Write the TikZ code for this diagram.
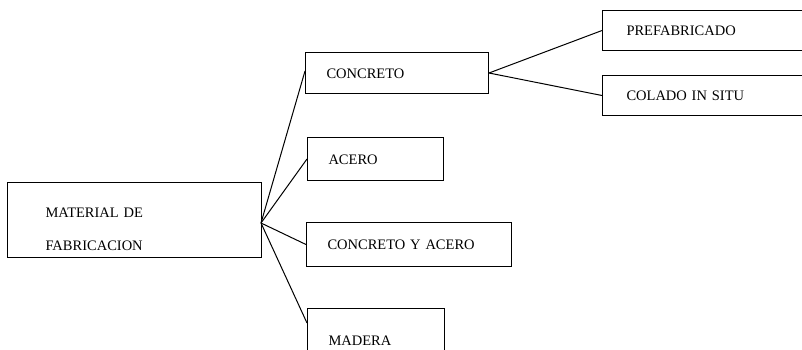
\documentclass[tikz,border=0pt]{standalone}
\usepackage{fontspec}
\setmainfont{Liberation Serif}
\begin{document}
\begin{tikzpicture}[x=1pt,y=-1pt,
  every node/.style={font=\fontsize{14.5}{33}\selectfont},
  box/.style={draw, line width=1pt, anchor=north west, inner ysep=0pt,
    inner xsep=21pt, align=left, text height=10pt, text depth=0pt},
  link/.style={line width=1pt}]
\useasboundingbox (0,0) rectangle (802,349);
\clip (0,0) rectangle (802,349);
% boxes
\node[box, inner xsep=38pt, text width=178pt, text height=, text depth=] (mat) at (7,182)
  {\rule{0pt}{35pt}MATERIAL DE\\FABRICACION\rule[-7pt]{0pt}{7pt}};
\node[box, minimum height=41pt, text width=141pt] (con) at (305,52) {CONCRETO};
\node[box, minimum height=43pt, text width=94pt] (ace) at (307,137) {ACERO};
\node[box, minimum height=44pt, text width=163pt] (cya) at (306,222) {CONCRETO Y ACERO};
\node[box, minimum height=64pt, text width=95pt] (mad) at (307,308) {MADERA};
\node[box, minimum height=40pt, text width=176pt, inner xsep=24pt] (pre) at (602,10) {PREFABRICADO};
\node[box, minimum height=40pt, text width=176pt, inner xsep=24pt] (col) at (602,75) {COLADO IN SITU};
% connectors
\coordinate (hub) at (261,223);
\draw[link] (hub) -- ([yshift=2pt]con.west);
\draw[link] (hub) -- (ace.west);
\draw[link] (hub) -- (cya.west);
\draw[link] (hub) -- ([yshift=-15pt]mad.north west);
\draw[link] (con.east) -- (pre.west);
\draw[link] (con.east) -- (col.west);
\end{tikzpicture}
\end{document}
